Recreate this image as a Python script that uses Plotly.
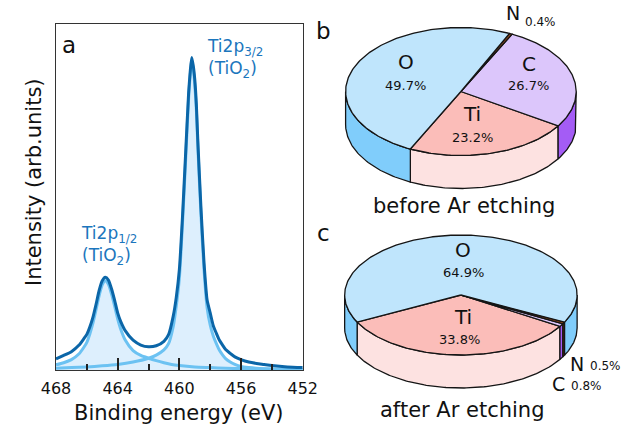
import numpy as np
import plotly.graph_objects as go

# ---------------- Panel a : Ti 2p XPS spectrum (arb. units) -------------
be_env = [468.0, 467.5, 467.0, 466.5, 466.2, 466.0, 465.8, 465.6, 465.4, 465.2,
          465.0, 464.8, 464.6, 464.4, 464.2, 464.0, 463.8, 463.5, 463.0, 462.5,
          462.0, 461.5, 461.0, 460.7, 460.4, 460.2, 460.0, 459.8, 459.6, 459.4,
          459.3, 459.2, 459.1, 459.0, 458.9, 458.8, 458.6, 458.4, 458.2, 458.0,
          457.8, 457.6, 457.4, 457.2, 457.0, 456.7, 456.4, 456.0, 455.5, 455.0,
          454.5, 454.0, 453.0, 452.0]
int_env = [3.2, 4.2, 5.3, 7.2, 9.0, 10.3, 12.5, 15.3, 19.0, 23.0,
           25.8, 26.8, 26.0, 23.5, 20.2, 16.5, 14.0, 11.3, 8.6, 7.2,
           6.7, 7.0, 8.3, 10.2, 15.5, 21.0, 29.0, 44.0, 62.0, 80.0,
           86.0, 90.3, 88.0, 84.0, 77.0, 66.0, 47.0, 31.0, 20.2, 16.5,
           12.8, 10.6, 8.6, 7.2, 5.9, 4.8, 3.8, 3.0, 2.3, 1.9,
           1.6, 1.3, 0.9, 0.7]

be_p32 = [468.0, 467.0, 466.0, 465.0, 464.0, 463.0, 462.0, 461.5, 461.0, 460.7,
          460.4, 460.2, 460.0, 459.8, 459.6, 459.4, 459.3, 459.2, 459.1, 459.0,
          458.9, 458.8, 458.6, 458.4, 458.2, 458.0, 457.8, 457.6, 457.4, 457.2,
          457.0, 456.7, 456.4, 456.0, 455.5, 455.0, 454.0, 453.0, 452.0]
int_p32 = [0.5, 0.7, 0.9, 1.2, 1.6, 2.3, 3.4, 4.3, 5.8, 7.6,
           12.5, 18.5, 26.5, 42.0, 60.0, 78.5, 85.0, 89.0, 87.0, 82.5,
           75.5, 64.5, 45.0, 29.0, 18.0, 13.0, 9.8, 7.6, 5.7, 4.4,
           3.3, 2.3, 1.6, 1.0, 0.7, 0.5, 0.3, 0.2, 0.1]

be_p12 = [468.0, 467.5, 467.0, 466.5, 466.2, 466.0, 465.8, 465.6, 465.4, 465.2,
          465.0, 464.8, 464.6, 464.4, 464.2, 464.0, 463.8, 463.5, 463.0, 462.5,
          462.0, 461.5, 461.0, 460.5, 460.0, 459.0, 458.0, 457.0, 456.0, 455.0,
          454.0, 452.0]
int_p12 = [1.5, 2.1, 3.0, 4.7, 6.5, 8.0, 10.5, 13.6, 17.5, 21.5,
           24.6, 25.8, 24.8, 22.0, 18.5, 14.8, 11.8, 8.6, 5.6, 4.2,
           3.4, 2.7, 2.1, 1.6, 1.3, 0.9, 0.7, 0.5, 0.4, 0.3,
           0.2, 0.1]

x_major = [468, 464, 460, 456, 452]
x_minor = [466, 462, 458, 454]

# ---------------- Panels b, c : surface composition (at.%) -------------
elements = ["Ti", "C", "N", "O"]
before_etch = [23.2, 26.7, 0.4, 49.7]
after_etch = [33.8, 0.8, 0.5, 64.9]

W, H = 635, 430
FONT = "DejaVu Sans"
DARK = "#0b66a8"
COMP = "#6cc2f2"
FILL = "#ddeffd"
LBL = "#1b76bd"
EDGE = "#151515"

top_col = {"Ti": "#fbbdb9", "C": "#dcc6fb", "N": "#9a4a1a", "O": "#bfe5fc"}
side_col = {"Ti": "#fde2e1", "C": "#a45cf5", "N": "#5e2a0c", "O": "#80cdfb"}


def P(x, y):
    return x / W, 1 - y / H


fig = go.Figure()

# component fills
for bx, by in [(be_p12, int_p12), (be_p32, int_p32)]:
    fig.add_trace(go.Scatter(x=bx, y=by, mode="lines", fill="tozeroy", fillcolor=FILL,
                             line=dict(width=0, shape="spline", smoothing=0.6),
                             hoverinfo="skip", showlegend=False))
# component outlines
for bx, by in [(be_p12, int_p12), (be_p32, int_p32)]:
    fig.add_trace(go.Scatter(x=bx, y=by, mode="lines",
                             line=dict(width=3, color=COMP, shape="spline", smoothing=0.6),
                             hoverinfo="skip", showlegend=False))
# envelope
fig.add_trace(go.Scatter(x=be_env, y=int_env, mode="lines",
                         line=dict(width=3, color=DARK, shape="spline", smoothing=0.6),
                         hoverinfo="skip", showlegend=False))


def pie3d(values, cx, cy, rx, ry, depth, start):
    angs = np.concatenate([[0], np.cumsum(values)]) * 3.6 + start
    # side walls (front half only)
    for i, el in enumerate(elements):
        a, b = angs[i], angs[i + 1]
        for k in range(-1, 3):
            lo = max(a, 180 + 360 * k)
            hi = min(b, 360 + 360 * k)
            if hi > lo:
                t = np.radians(np.linspace(lo, hi, int(hi - lo) + 2))
                xs = cx + rx * np.cos(t)
                ys = cy - ry * np.sin(t)
                X = np.concatenate([xs, xs[::-1], xs[:1]])
                Y = np.concatenate([ys, ys[::-1] + depth, ys[:1]])
                fig.add_trace(go.Scatter(x=X, y=Y, mode="lines", fill="toself",
                                         fillcolor=side_col[el],
                                         line=dict(color=EDGE, width=1.3),
                                         xaxis="x2", yaxis="y2",
                                         hoverinfo="skip", showlegend=False))
    # top faces
    for i, el in enumerate(elements):
        a, b = angs[i], angs[i + 1]
        t = np.radians(np.linspace(a, b, int(b - a) + 2))
        xs = cx + rx * np.cos(t)
        ys = cy - ry * np.sin(t)
        X = np.concatenate([[cx], xs, [cx]])
        Y = np.concatenate([[cy], ys, [cy]])
        fig.add_trace(go.Scatter(x=X, y=Y, mode="lines", fill="toself",
                                 fillcolor=top_col[el],
                                 line=dict(color=EDGE, width=1.3),
                                 xaxis="x2", yaxis="y2",
                                 hoverinfo="skip", showlegend=False))


pie3d(before_etch, 468, 91.5, 121, 64, 33, 244.0)
pie3d(after_etch, 468, 295, 122, 60, 33, 206.8)

ann = []


def txt(x, y, s, size, color="#111", xanchor="center"):
    px, py = P(x, y)
    ann.append(dict(x=px, y=py, xref="paper", yref="paper", text=s, showarrow=False,
                    xanchor=xanchor, yanchor="middle", align="left",
                    font=dict(family=FONT, size=size, color=color)))


# panel a texts
txt(57, 45, "a", 23)
txt(199, 59, "Ti2p<sub>3/2</sub><br>(TiO<sub>2</sub>)", 17, LBL, "left")
txt(67, 245, "Ti2p<sub>1/2</sub><br>(TiO<sub>2</sub>)", 17, LBL, "left")
txt(172, 413, "Binding energy (eV)", 21)
px, py = P(20, 182)
ann.append(dict(x=px, y=py, xref="paper", yref="paper", text="Intensity (arb.units)",
                showarrow=False, textangle=-90, xanchor="center", yanchor="middle",
                font=dict(family=FONT, size=21, color="#111")))

# panel b texts
txt(324, 31, "b", 23)
txt(410, 62, "O", 20)
txt(410, 85, f"{before_etch[3]}%", 13)
txt(540, 64, "C", 20)
txt(539, 86, f"{before_etch[1]}%", 13)
txt(480, 114, "Ti", 20)
txt(480, 137, f"{before_etch[0]}%", 13)
txt(523, 13, "N", 19)
txt(552, 22, f"{before_etch[2]}%", 12)
txt(471, 206, "before Ar etching", 21)

# panel c texts
txt(324, 233, "c", 23)
txt(470, 250, "O", 20)
txt(471, 272, f"{after_etch[3]}%", 13)
txt(470, 317, "Ti", 20)
txt(467, 339, f"{after_etch[0]}%", 13)
txt(590, 364, "N", 19)
txt(620, 366, f"{after_etch[2]}%", 12)
txt(570, 384, "C", 19)
txt(600, 386, f"{after_etch[1]}%", 12)
txt(470, 410, "after Ar etching", 21)

fig.update_layout(
    width=W, height=H, margin=dict(l=0, r=0, t=0, b=0),
    paper_bgcolor="white", plot_bgcolor="white",
    showlegend=False,
    annotations=ann,
    xaxis=dict(domain=[43 / W, 302 / W], range=[468, 452], showgrid=False, zeroline=False,
               showline=True, mirror=True, linecolor="#333", linewidth=1.3,
               ticks="inside", tickvals=x_major, ticklen=12, tickwidth=1.5, tickcolor="#222",
               ticklabelstandoff=4,
               tickfont=dict(family=FONT, size=16, color="#111"),
               minor=dict(tickvals=x_minor, ticks="inside", ticklen=6, tickwidth=1.5,
                          tickcolor="#222", showgrid=False)),
    yaxis=dict(domain=[1 - 370 / H, 1 - 24 / H], range=[0, 100], showgrid=False,
               zeroline=False, showline=True, mirror=True, linecolor="#333", linewidth=1.3,
               showticklabels=False, ticks=""),
    xaxis2=dict(domain=[310 / W, 1], range=[310, 635], visible=False, fixedrange=True),
    yaxis2=dict(domain=[0, 1], range=[430, 0], visible=False, fixedrange=True),
)

fig.write_html("out.html")
